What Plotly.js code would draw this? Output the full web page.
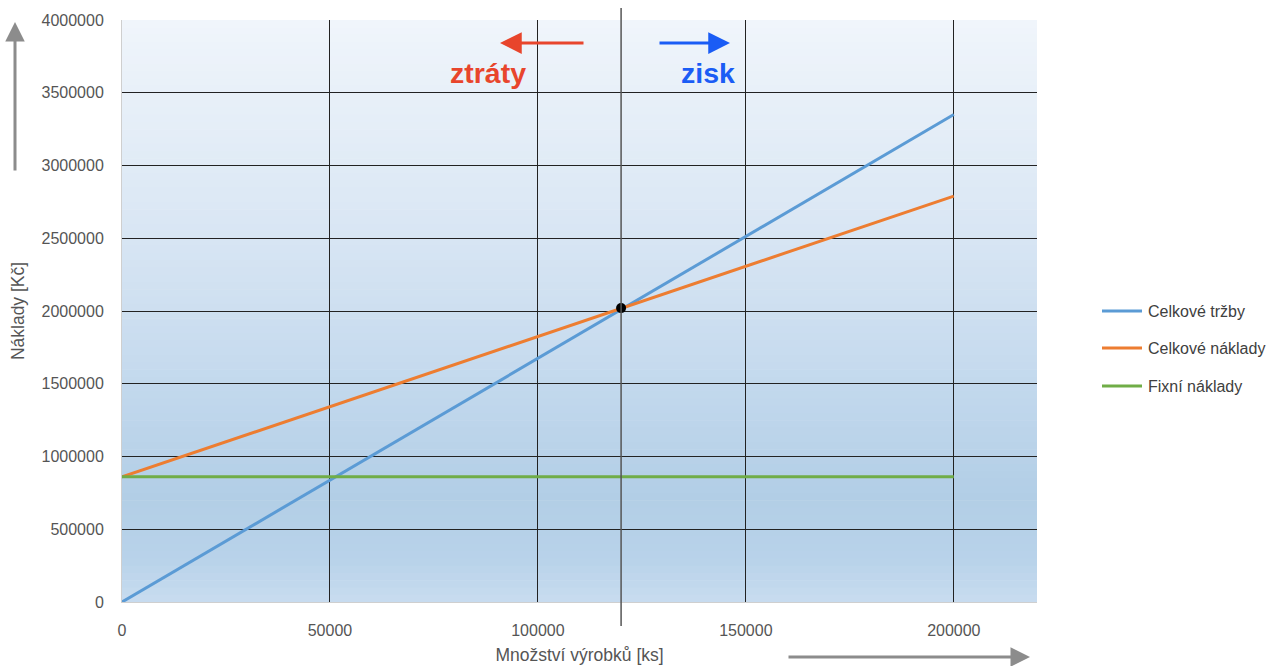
<!DOCTYPE html>
<html>
<head>
<meta charset="utf-8">
<script src="https://cdn.plot.ly/plotly-3.0.1.min.js"></script>
<style>html,body{margin:0;padding:0;background:#fff;}#chart{width:1269px;height:666px;}</style>
</head>
<body>
<div id="chart"></div>
<script>
// ---- data ----
const quantity = [0, 200000];
const revenue = [0, 3350000];          // Celkové tržby
const totalCosts = [860000, 2790000];  // Celkové náklady
const fixedCosts = [860000, 860000];   // Fixní náklady
const breakEvenX = [120000];
const breakEvenY = [2020000];
const seriesNames = ['Celkové tržby', 'Celkové náklady', 'Fixní náklady'];
const seriesColors = ['#5b9bd5', '#ed7d31', '#70ad47'];
const xTicks = [0, 50000, 100000, 150000, 200000];
const yTicks = [0, 500000, 1000000, 1500000, 2000000, 2500000, 3000000, 3500000, 4000000];

const FONT = 'Liberation Sans, Arial, sans-serif';
const L = 122, R = 1037, T = 20, B = 602;
const px = v => (v - L) / (R - L);
const py = v => (B - v) / (B - T);

// background gradient (style only)
const stops = [[0, [240,245,251]], [0.3, [221,233,245]], [0.6, [197,218,238]], [0.82, [178,206,230]], [0.93, [185,211,234]], [1, [200,220,239]]];
function colAt(t){
  for (let i=1;i<stops.length;i++){
    if (t<=stops[i][0]){
      const a=stops[i-1], b=stops[i];
      const f=(t-a[0])/(b[0]-a[0]);
      const c=a[1].map((v,k)=>Math.round(v+(b[1][k]-v)*f));
      return 'rgb('+c.join(',')+')';
    }
  }
  return 'rgb('+stops[stops.length-1][1].join(',')+')';
}
const shapes = [];
const N = 80;
for (let i=0;i<N;i++){
  const tTop = i/N, tBot=(i+1)/N;
  shapes.push({type:'rect', xref:'paper', yref:'paper', x0:0, x1:1, y0:1-tBot-0.001, y1:1-tTop, fillcolor: colAt((tTop+tBot)/2), line:{width:0}, layer:'below'});
}
// break-even vertical line
shapes.push({type:'line', xref:'x', yref:'paper', x0:breakEvenX[0], x1:breakEvenX[0], y0:py(626), y1:py(8), line:{color:'#555', width:1.5}});

const lw = 3;
const traces = [
  {x: quantity, y: revenue, mode:'lines', name: seriesNames[0], line:{color:seriesColors[0], width:lw}},
  {x: quantity, y: totalCosts, mode:'lines', name: seriesNames[1], line:{color:seriesColors[1], width:lw}},
  {x: quantity, y: fixedCosts, mode:'lines', name: seriesNames[2], line:{color:seriesColors[2], width:lw}},
  {x: breakEvenX, y: breakEvenY, mode:'markers', marker:{color:'#000', size:10}, hoverinfo:'skip'}
];

const annotations = [
  {xref:'paper', yref:'paper', x:px(500), y:py(43), ax:85, ay:0, showarrow:true, arrowhead:2, arrowsize:1.45, arrowwidth:3, arrowcolor:'#e8452c', text:''},
  {xref:'paper', yref:'paper', x:px(488), y:py(73), xanchor:'center', yanchor:'middle', text:'<b>ztráty</b>', showarrow:false, font:{family:FONT, size:28.5, color:'#e8452c'}},
  {xref:'paper', yref:'paper', x:px(730), y:py(43), ax:-72, ay:0, showarrow:true, arrowhead:2, arrowsize:1.45, arrowwidth:3, arrowcolor:'#1a5cf5', text:''},
  {xref:'paper', yref:'paper', x:px(708), y:py(73), xanchor:'center', yanchor:'middle', text:'<b>zisk</b>', showarrow:false, font:{family:FONT, size:28.5, color:'#1a5cf5'}},
  // gray axis arrows
  {xref:'paper', yref:'paper', x:px(15), y:py(22), ax:0, ay:150, showarrow:true, arrowhead:2, arrowsize:1.3, arrowwidth:3, arrowcolor:'#8c8c8c', text:''},
  {xref:'paper', yref:'paper', x:px(1030), y:py(657), ax:-243, ay:0, showarrow:true, arrowhead:2, arrowsize:1.3, arrowwidth:3, arrowcolor:'#8c8c8c', text:''}
];

// legend drawn manually to keep plot area fixed
const legendY = [311, 348, 386];
seriesNames.forEach((name, i) => {
  shapes.push({type:'line', xref:'paper', yref:'paper', x0:px(1102), x1:px(1142), y0:py(legendY[i]), y1:py(legendY[i]), line:{color:seriesColors[i], width:3}});
  annotations.push({xref:'paper', yref:'paper', x:px(1146), y:py(legendY[i]), xanchor:'left', yanchor:'middle', showarrow:false, text:name, font:{family:FONT, size:16, color:'#404040'}});
});

const layout = {
  width:1269, height:666,
  margin:{l:L, r:1269-R, t:T, b:666-B},
  paper_bgcolor:'#fff', plot_bgcolor:'rgba(0,0,0,0)',
  font:{family:FONT, color:'#595959'},
  showlegend:false,
  xaxis:{range:[0,220000], tickvals:xTicks, ticktext:xTicks.map(String), showgrid:true, gridcolor:'#222', gridwidth:1, zeroline:false, showline:true, linecolor:'#cfcfcf', linewidth:1, ticks:'', ticklabelstandoff:14, tickfont:{family:FONT, size:16, color:'#555'}, automargin:false,
         title:{text:'Množství výrobků [ks]', font:{family:FONT, size:17.5, color:'#555'}, standoff:10}},
  yaxis:{range:[0,4000000], tickvals:yTicks, ticktext:yTicks.map(String), showgrid:true, gridcolor:'#222', gridwidth:1, zeroline:false, showline:true, linecolor:'#cfcfcf', linewidth:1, ticks:'', ticklabelstandoff:14, tickfont:{family:FONT, size:16, color:'#555'}, automargin:false,
         title:{text:'Náklady [Kč]', font:{family:FONT, size:17.5, color:'#555'}, standoff:12}},
  shapes:shapes,
  annotations:annotations
};

Plotly.newPlot('chart', traces, layout, {displayModeBar:false, staticPlot:true});
</script>
</body>
</html>
